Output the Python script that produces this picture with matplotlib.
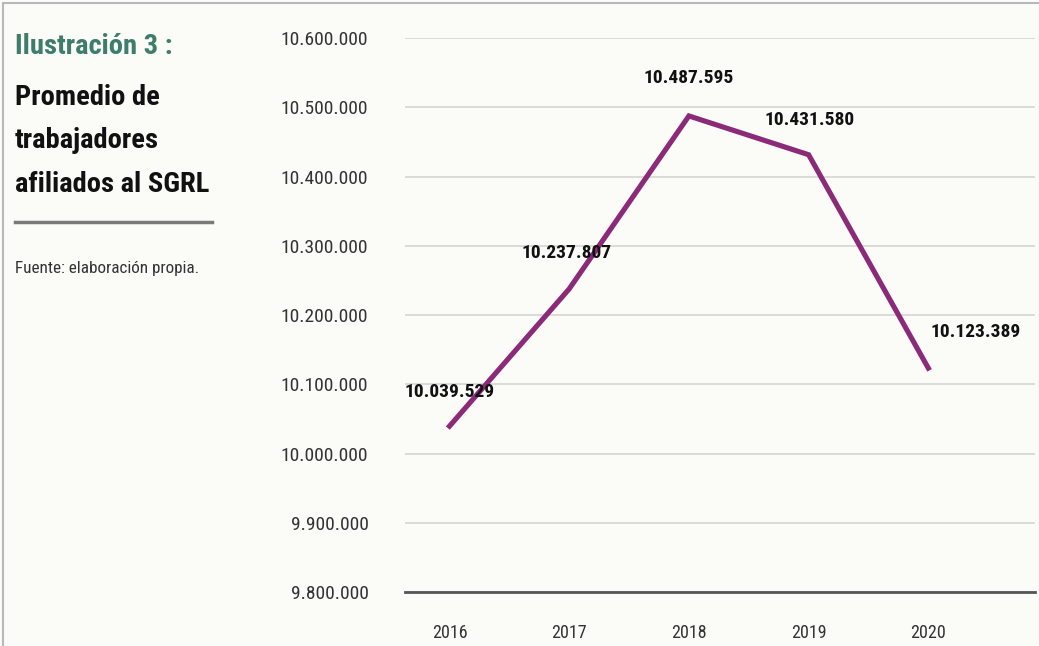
import matplotlib
matplotlib.use("Agg")
import matplotlib.pyplot as plt
from matplotlib.ticker import FuncFormatter
from matplotlib.patches import Rectangle
from matplotlib import font_manager as fm

years = ["2016", "2017", "2018", "2019", "2020"]
values = [10039529, 10237807, 10487595, 10431580, 10123389]
y_ticks = [9800000, 9900000, 10000000, 10100000, 10200000, 10300000, 10400000, 10500000, 10600000]

names = {f.name for f in fm.fontManager.ttflist}
fam = [n for n in ["Roboto Condensed", "Liberation Sans Narrow", "DejaVu Sans Condensed", "Open Sans Condensed"] if n in names]
fam = (fam[:1] or []) + ["DejaVu Sans"]
plt.rcParams['font.family'] = fam

def fmt(v):
    return f"{int(round(v)):,}".replace(",", ".")

bg = "#fbfbf8"
fig = plt.figure(figsize=(10.39, 6.46), dpi=100, facecolor=bg)
ax = fig.add_axes([0.390, 0.0836, 0.606, 0.8574], facecolor=bg)

x = list(range(len(years)))
ax.plot(x, values, color="#8a2a78", lw=3.7, solid_joinstyle="miter", zorder=3)

offsets = [(0, 34), (-3, 36), (0, 38), (1, 35), (47, 36)]
for xi, v, (dx, dy) in zip(x, values, offsets):
    ax.annotate(fmt(v), (xi, v), xytext=(dx, dy), textcoords="offset pixels",
                ha="center", va="center", fontsize=14, fontweight="bold", color="#111111", zorder=4)

ax.set_ylim(9800000, 10600000)
ax.set_xlim(-0.37, 4.89)
ax.set_yticks(y_ticks)
ax.yaxis.set_major_formatter(FuncFormatter(lambda v, p: fmt(v)))
ax.set_xticks(x)
ax.set_xticklabels(years)
ax.grid(axis="y", color="#d8d8d4", lw=1.3)
ax.set_axisbelow(True)
for s in ["top", "right", "left"]:
    ax.spines[s].set_visible(False)
ax.spines["bottom"].set_color("#555555")
ax.spines["bottom"].set_linewidth(2)
ax.tick_params(axis="y", length=0, pad=26.5, labelsize=14, labelcolor="#333333")
ax.tick_params(axis="x", length=0, pad=23, labelsize=13, labelcolor="#333333")

fig.text(15/1039, 1 - 46/646, "Ilustración 3 :", fontsize=20.5, fontweight="bold", color="#3e7d6c", ha="left", va="center")
fig.text(15/1039, 1 - 141/646, "Promedio de\ntrabajadores\nafiliados al SGRL", fontsize=20.5, fontweight="bold",
         color="#111111", ha="left", va="center", linespacing=1.78)
fig.add_artist(plt.Line2D([15/1039, 212/1039], [1 - 222/646, 1 - 222/646], color="#7a7a7a", lw=2.5))
fig.text(15/1039, 1 - 268/646, "Fuente: elaboración propia.", fontsize=12.3, color="#333333", ha="left", va="center")

fig.add_artist(Rectangle((0.003, -0.01), 1.0, 1.005, transform=fig.transFigure, fill=False,
                         edgecolor="#b8b8b8", lw=1.5))

fig.savefig("out.png", dpi=100, facecolor=bg)
